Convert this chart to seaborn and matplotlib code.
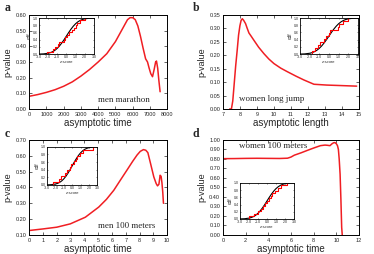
import matplotlib
matplotlib.use("Agg")
import matplotlib.pyplot as plt
import seaborn as sns

# panel a: men marathon
mar_x = [0, 500, 1000, 1500, 2000, 2500, 3000, 3500, 4000, 4500, 5000, 5300, 5500,
         5700, 5850, 6000, 6150, 6300, 6450, 6600, 6750, 6860, 6950, 7050, 7150,
         7250, 7330, 7380, 7450, 7520, 7590]
mar_y = [0.081, 0.092, 0.106, 0.123, 0.145, 0.173, 0.210, 0.252, 0.300, 0.353, 0.430,
         0.490, 0.530, 0.570, 0.583, 0.583, 0.570, 0.530, 0.465, 0.390, 0.320, 0.300,
         0.262, 0.225, 0.206, 0.255, 0.300, 0.306, 0.260, 0.180, 0.110]

# panel b: women long jump
lj_x = [7.40, 7.50, 7.58, 7.65, 7.75, 7.84, 7.92, 8.00, 8.07, 8.14, 8.22, 8.33, 8.43,
        8.53, 8.65, 8.82, 9.10, 9.41, 9.70, 10.0, 10.4, 10.78, 11.3, 11.76, 12.35,
        13.1, 14.0, 14.86]
lj_y = [0.0, 0.0, 0.030, 0.083, 0.160, 0.219, 0.275, 0.310, 0.330, 0.336, 0.330, 0.318,
        0.300, 0.283, 0.272, 0.256, 0.230, 0.206, 0.186, 0.169, 0.152, 0.139, 0.122,
        0.108, 0.092, 0.089, 0.087, 0.085]

# panel c: men 100 meters
m100_x = [0, 1, 2, 2.98, 4.07, 5.04, 5.6, 6.13, 6.6, 7.09, 7.5, 7.82, 8.05, 8.28, 8.45,
          8.6, 8.79, 9.03, 9.2, 9.3, 9.4, 9.49, 9.56, 9.62, 9.68, 9.73]
m100_y = [0.128, 0.138, 0.149, 0.170, 0.212, 0.276, 0.325, 0.382, 0.445, 0.510, 0.565,
          0.605, 0.628, 0.639, 0.635, 0.620, 0.553, 0.467, 0.425, 0.410, 0.420, 0.477,
          0.470, 0.430, 0.370, 0.300]

# panel d: women 100 meters
w100_x = [0, 1, 2, 3, 4, 5, 5.7, 6.0, 6.3, 6.9, 7.44, 8.0, 8.6, 9.0, 9.2, 9.44, 9.6,
          9.75, 9.88, 10.0, 10.1, 10.18, 10.25, 10.33, 10.4, 10.47, 10.52]
w100_y = [0.803, 0.804, 0.806, 0.807, 0.806, 0.805, 0.808, 0.820, 0.840, 0.865, 0.890,
          0.915, 0.940, 0.946, 0.944, 0.940, 0.958, 0.970, 0.972, 0.960, 0.940, 0.900,
          0.800, 0.640, 0.380, 0.080, 0.0]

# inset data: z-scores of each series and the standard normal cdf table
z_a = [-2.1, -1.5, -1.2, -0.9, -0.8, -0.3, -0.2, 0.1, 0.3, 0.6, 0.8, 1.0, 1.2, 1.5, 2.0]
z_b = [-1.8, -1.4, -1.1, -0.9, -0.5, -0.3, 0.0, 0.1, 0.9, 1.0, 1.5, 2.0]
z_c = [-2.3, -1.6, -1.3, -0.9, -0.6, -0.3, -0.1, 0.2, 0.4, 0.6, 0.9, 1.3, 2.5]
z_d = [-2.0, -1.4, -1.0, -0.7, -0.5, -0.2, 0.0, 0.2, 0.4, 0.6, 0.9, 1.2, 1.6, 2.2]
norm_z = [-3.0, -2.5, -2.0, -1.75, -1.5, -1.25, -1.0, -0.75, -0.5, -0.25, 0.0, 0.25, 0.5,
          0.75, 1.0, 1.25, 1.5, 1.75, 2.0, 2.5, 3.0]
norm_cdf = [0.001, 0.006, 0.023, 0.040, 0.067, 0.106, 0.159, 0.227, 0.309, 0.401, 0.5,
            0.599, 0.691, 0.773, 0.841, 0.894, 0.933, 0.960, 0.977, 0.994, 0.999]

sns.set_theme(style="ticks")
plt.rcParams["font.family"] = ["Liberation Sans", "DejaVu Sans"]

fig = plt.figure(figsize=(3.74, 2.54), dpi=100)


def style_main(ax, xlim, xticks, ylim, yticks, xlabel, xfmt="{:g}"):
    ax.set_xlim(*xlim)
    ax.set_ylim(*ylim)
    ax.set_xticks(xticks)
    ax.set_yticks(yticks)
    ax.set_xticklabels([xfmt.format(t) for t in xticks])
    ax.set_yticklabels(["{:.2f}".format(t) for t in yticks])
    ax.tick_params(direction="in", length=2, width=0.5, labelsize=4, pad=2,
                   top=True, right=True)
    for s in ax.spines.values():
        s.set_linewidth(0.7)
        s.set_color("black")
    ax.set_xlabel(xlabel, fontsize=7, labelpad=1)
    ax.set_ylabel("p-value", fontsize=6.5, labelpad=2)


def draw_inset(rect, z):
    ins = fig.add_axes(rect)
    sns.lineplot(x=norm_z, y=norm_cdf, ax=ins, color="black", lw=0.8)
    sns.ecdfplot(x=z, ax=ins, color="red", lw=0.8)
    ins.set_xlim(-3, 3)
    ins.set_ylim(0, 1.0)
    ins.set_xticks([-3, -2, -1, 0, 1, 2, 3])
    ins.set_xticklabels(["-3.0", "-2.0", "-1.0", "0.0", "1.0", "2.0", "3.0"])
    ins.set_yticks([0, 0.2, 0.4, 0.6, 0.8, 1.0])
    ins.set_yticklabels(["0.0", "0.2", "0.4", "0.6", "0.8", "1.0"])
    ins.tick_params(direction="in", length=1, width=0.4, labelsize=2.5, pad=1,
                    top=True, right=True)
    for s in ins.spines.values():
        s.set_linewidth(0.6)
        s.set_color("black")
    ins.set_xlabel("z-score", fontsize=3, labelpad=0.5)
    ins.set_ylabel("cdf", fontsize=3.5, labelpad=0.5)
    return ins


txt = dict(family="Liberation Serif", fontsize=6.5, ha="center", va="center")
lbl = dict(family="Liberation Serif", fontsize=8.5, fontweight="bold")

# a
ax_a = fig.add_axes([0.078, 0.571, 0.369, 0.370])
sns.lineplot(x=mar_x, y=mar_y, ax=ax_a, color="#f01e23", lw=1.1)
style_main(ax_a, (0, 8000), list(range(0, 8001, 1000)), (0, 0.6),
           [0, 0.1, 0.2, 0.3, 0.4, 0.5, 0.6], "asymptotic time")
ax_a.text(5500, 0.055, "men marathon", **txt)
draw_inset([0.104, 0.787, 0.147, 0.142], z_a)
fig.text(0.012, 0.955, "a", **lbl)

# b
ax_b = fig.add_axes([0.596, 0.571, 0.364, 0.370])
sns.lineplot(x=lj_x, y=lj_y, ax=ax_b, color="#f01e23", lw=1.1)
style_main(ax_b, (7, 15), list(range(7, 16)), (0, 0.35),
           [0, 0.05, 0.1, 0.15, 0.2, 0.25, 0.3, 0.35], "asymptotic length")
ax_b.text(9.85, 0.038, "women long jump", **txt)
draw_inset([0.802, 0.787, 0.155, 0.142], z_b)
fig.text(0.515, 0.955, "b", **lbl)

# c
ax_c = fig.add_axes([0.078, 0.075, 0.369, 0.374])
sns.lineplot(x=m100_x, y=m100_y, ax=ax_c, color="#f01e23", lw=1.1)
style_main(ax_c, (0, 10), list(range(0, 11)), (0.1, 0.7),
           [0.1, 0.2, 0.3, 0.4, 0.5, 0.6, 0.7], "asymptotic time")
ax_c.text(7.1, 0.157, "men 100 meters", **txt)
draw_inset([0.126, 0.272, 0.134, 0.150], z_c)
fig.text(0.012, 0.46, "c", **lbl)

# d
ax_d = fig.add_axes([0.596, 0.075, 0.364, 0.374])
sns.lineplot(x=w100_x, y=w100_y, ax=ax_d, color="#f01e23", lw=1.1)
style_main(ax_d, (0, 12), list(range(0, 13, 2)), (0, 1.0),
           [0, 0.1, 0.2, 0.3, 0.4, 0.5, 0.6, 0.7, 0.8, 0.9, 1.0], "asymptotic time")
ax_d.text(4.4, 0.937, "women 100 meters", **txt)
draw_inset([0.642, 0.138, 0.144, 0.142], z_d)
fig.text(0.515, 0.46, "d", **lbl)

fig.savefig("out.png", dpi=100)
